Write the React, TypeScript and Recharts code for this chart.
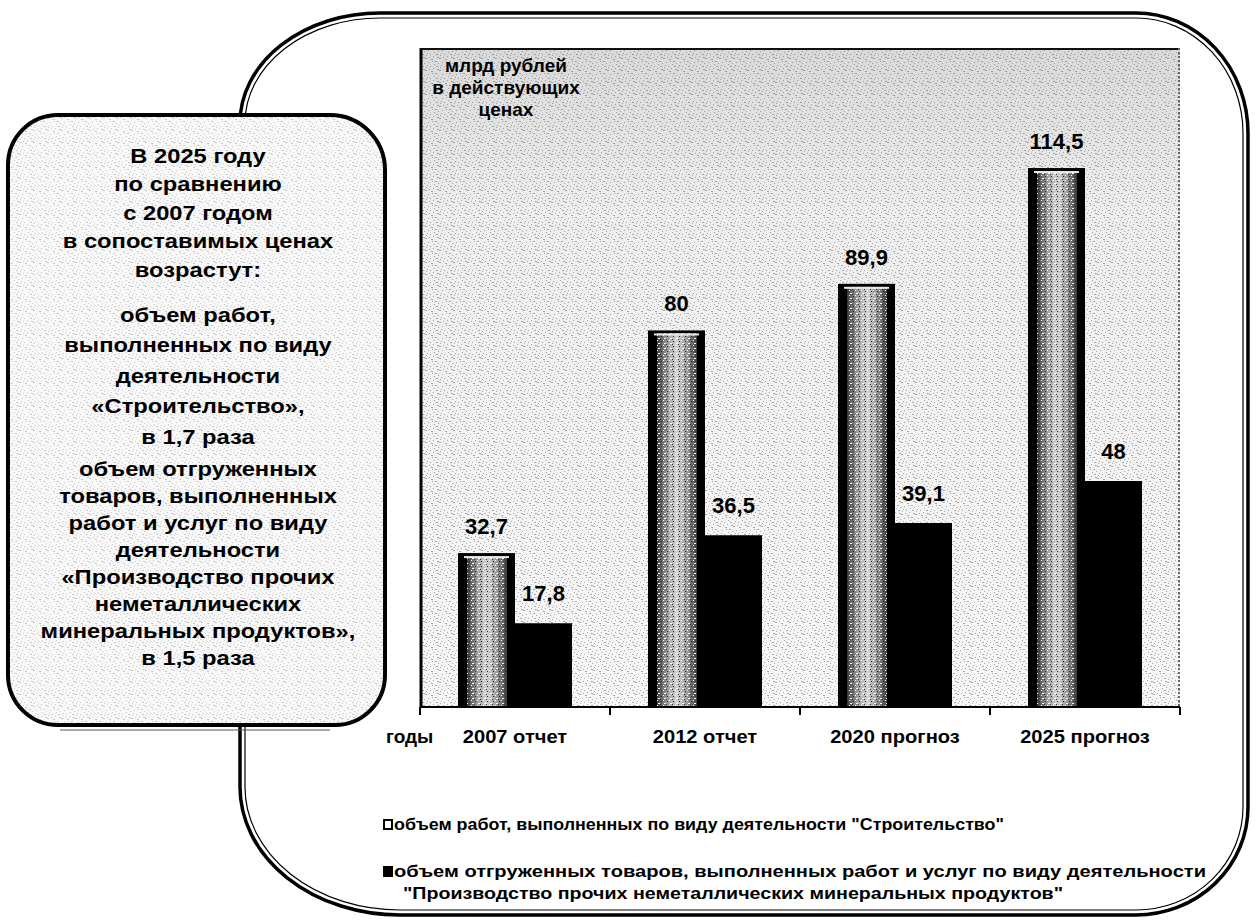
import React from 'react';
import { BarChart, Bar, XAxis, YAxis, LabelList, Legend } from 'recharts';

const categories = ['2007 отчет', '2012 отчет', '2020 прогноз', '2025 прогноз'];
const construction = [32.7, 80, 89.9, 114.5];
const minerals = [17.8, 36.5, 39.1, 48];
const seriesNames = [
  'объем работ, выполненных по виду деятельности "Строительство"',
  'объем отгруженных товаров, выполненных работ и услуг по виду деятельности',
  '"Производство прочих неметаллических минеральных продуктов"',
];
const unitLines = ['млрд рублей', 'в действующих', 'ценах'];
const noteGroups = [
  ['В 2025 году', 'по сравнению', 'с 2007 годом', 'в сопоставимых ценах', 'возрастут:'],
  ['объем работ,', 'выполненных по виду', 'деятельности', '«Строительство»,', 'в 1,7 раза'],
  [
    'объем отгруженных',
    'товаров, выполненных',
    'работ и услуг по виду',
    'деятельности',
    '«Производство прочих',
    'неметаллических',
    'минеральных продуктов»,',
    'в 1,5 раза',
  ],
];

const data = categories.map((cat, i) => ({ cat, build: construction[i], mineral: minerals[i] }));

const FONT = '"Liberation Sans", Arial, sans-serif';
const W = 1258;
const H = 923;

const fmt = (v: number) => String(v).replace('.', ',');

// rounded rect with a radius pair per corner: tl, tr, br, bl
function roundPath(x: number, y: number, w: number, h: number, r: number[][]) {
  const [tl, tr, br, bl] = r;
  return [
    `M${x + tl[0]},${y}`,
    `H${x + w - tr[0]}`,
    `A${tr[0]},${tr[1]} 0 0 1 ${x + w},${y + tr[1]}`,
    `V${y + h - br[1]}`,
    `A${br[0]},${br[1]} 0 0 1 ${x + w - br[0]},${y + h}`,
    `H${x + bl[0]}`,
    `A${bl[0]},${bl[1]} 0 0 1 ${x},${y + h - bl[1]}`,
    `V${y + tl[1]}`,
    `A${tl[0]},${tl[1]} 0 0 1 ${x + tl[0]},${y}`,
    'Z',
  ].join(' ');
}

const SPECKS = [
  [1, 1], [4, 3], [8, 2], [2, 6], [6, 7], [9, 9], [5, 10], [0, 4], [10, 6], [3, 9], [7, 5], [12, 1], [11, 11], [13, 8],
];

function CategoryTick({ x, y, payload, index, visibleTicksCount }: any) {
  const half = payload?.offset || 95;
  const last = index === (visibleTicksCount ?? categories.length) - 1;
  return (
    <g>
      <line x1={x - half} y1={y} x2={x - half} y2={y + 8} stroke="#000" strokeWidth={2} />
      {last && <line x1={x + half} y1={y} x2={x + half} y2={y + 8} stroke="#000" strokeWidth={2} />}
      <text
        x={x}
        y={y + 36}
        textAnchor="middle"
        fontFamily={FONT}
        fontWeight="bold"
        fontSize={19}
        fill="#000"
        transform={`translate(${x},0) scale(1.06,1) translate(${-x},0)`}
      >
        {payload.value}
      </text>
    </g>
  );
}

function TexturedBar({ x, y, width, height }: any) {
  if (!height || height <= 0) return null;
  return (
    <g>
      <rect x={x} y={y} width={width} height={height} fill="#000" />
      <rect x={x + 9} y={y + 3} width={width - 17} height={height - 3} fill="url(#barTex)" />
      <rect x={x + 9} y={y + 3} width={width - 17} height={height - 3} fill="url(#barSpeck)" />
      <rect x={x + 6} y={y + 3} width={width - 12} height={2} fill="#e8e8e8" />
    </g>
  );
}

const valueLabel = (gap: number) => (p: any) => {
  const { x, y, width, value } = p;
  return (
    <text x={x + width / 2} y={y - gap} textAnchor="middle" fontFamily={FONT} fontWeight="bold" fontSize={22} fill="#000">
      {fmt(value)}
    </text>
  );
};

function LegendBox() {
  return (
    <svg width={880} height={100} style={{ display: 'block', overflow: 'visible' }}>
      <rect x={2} y={14} width={8} height={9} fill="#fff" stroke="#000" strokeWidth={2} />
      <text x={12} y={24} fontFamily={FONT} fontWeight="bold" fontSize={17} fill="#000" textLength={610} lengthAdjust="spacingAndGlyphs">
        {seriesNames[0]}
      </text>
      <rect x={1} y={60} width={10} height={11} fill="#000" />
      <text x={12} y={71} fontFamily={FONT} fontWeight="bold" fontSize={17} fill="#000" textLength={812} lengthAdjust="spacingAndGlyphs">
        {seriesNames[1]}
      </text>
      <text x={21} y={93} fontFamily={FONT} fontWeight="bold" fontSize={17} fill="#000" textLength={660} lengthAdjust="spacingAndGlyphs">
        {seriesNames[2]}
      </text>
    </svg>
  );
}

function Backdrop() {
  const starts = [163, 322, 476];
  const steps = [28.5, 30.5, 27];
  const cx = 198;
  return (
    <svg width={W} height={H} style={{ position: 'absolute', left: 0, top: 0 }}>
      <defs>
        <pattern id="speck" width={14} height={12} patternUnits="userSpaceOnUse">
          {SPECKS.map(([a, b], i) => (
            <rect key={i} x={a} y={b} width={i % 3 === 0 ? 2 : 1} height={1} fill="#5a5a5a" />
          ))}
        </pattern>
        <pattern id="barSpeck" width={6} height={5} patternUnits="userSpaceOnUse">
          <rect x={1} y={1} width={1} height={1} fill="#222" />
          <rect x={4} y={3} width={2} height={1} fill="#fff" />
          <rect x={3} y={0} width={1} height={1} fill="#fff" />
          <rect x={0} y={4} width={1} height={1} fill="#333" />
        </pattern>
        <linearGradient id="barTex" x1="0" y1="0" x2="1" y2="0">
          <stop offset="0%" stopColor="#3c3c3c" />
          <stop offset="25%" stopColor="#9a9a9a" />
          <stop offset="50%" stopColor="#d4d4d4" />
          <stop offset="75%" stopColor="#9a9a9a" />
          <stop offset="100%" stopColor="#3c3c3c" />
        </linearGradient>
        <linearGradient id="panelGrad" x1="0" y1="0" x2="0" y2="1">
          <stop offset="0%" stopColor="#d9d9d9" />
          <stop offset="25%" stopColor="#eeeeee" />
          <stop offset="100%" stopColor="#f7f7f7" />
        </linearGradient>
      </defs>

      {/* outer frame, double line */}
      <path
        d={roundPath(240, 13, 1008, 902, [[140, 110], [112, 120], [112, 108], [160, 128]])}
        fill="#fff"
        stroke="#000"
        strokeWidth={3.5}
      />
      <path
        d={roundPath(245, 18, 998, 892, [[135, 105], [107, 115], [107, 103], [155, 123]])}
        fill="none"
        stroke="#000"
        strokeWidth={1.2}
      />

      {/* plot panel */}
      <rect x={420} y={48} width={760} height={659} fill="url(#panelGrad)" />
      <rect x={420} y={48} width={760} height={659} fill="url(#speck)" opacity={0.5} />
      <line x1={421} y1={48} x2={421} y2={707} stroke="#000" strokeWidth={3} />
      <line x1={420} y1={49} x2={1180} y2={49} stroke="#111" strokeWidth={2} />
      <line x1={1179} y1={48} x2={1179} y2={707} stroke="#666" strokeWidth={2} strokeDasharray="2 2" />
      {unitLines.map((t, i) => (
        <text key={t} x={506} y={72 + i * 22} textAnchor="middle" fontFamily={FONT} fontWeight="bold" fontSize={19} fill="#000">
          {t}
        </text>
      ))}

      {/* left note box */}
      <path d={roundPath(8, 115, 377, 610, [[50, 50], [55, 55], [50, 50], [50, 50]])} fill="#f8f8f8" stroke="#000" strokeWidth={4} />
      <path d={roundPath(8, 115, 377, 610, [[50, 50], [55, 55], [50, 50], [50, 50]])} fill="url(#speck)" opacity={0.3} />
      <line x1={60} y1={730} x2={330} y2={730} stroke="#555" strokeWidth={1} />
      <g transform={`translate(${cx},0) scale(1.13,1) translate(${-cx},0)`}>
        {noteGroups.map((g, gi) =>
          g.map((t, li) => (
            <text
              key={gi + '-' + li}
              x={cx}
              y={starts[gi] + li * steps[gi]}
              textAnchor="middle"
              fontFamily={FONT}
              fontWeight="bold"
              fontSize={21}
              fill="#000"
            >
              {t}
            </text>
          ))
        )}
      </g>

      <text x={386} y={743} fontFamily={FONT} fontWeight="bold" fontSize={19} fill="#000">
        годы
      </text>
    </svg>
  );
}

export default function App() {
  return (
    <div style={{ position: 'absolute', left: 0, top: 0, width: W, height: H, background: '#fff' }}>
      <Backdrop />
      <div style={{ position: 'absolute', left: 0, top: 0 }}>
        <BarChart
          width={W}
          height={H}
          data={data}
          margin={{ top: 48, right: 78, bottom: 186, left: 420 }}
          barCategoryGap="20%"
          barGap={0}
        >
          <XAxis
            dataKey="cat"
            height={30}
            interval={0}
            axisLine={{ stroke: '#000', strokeWidth: 2 }}
            tickLine={false}
            tickSize={0}
            tickMargin={0}
            tick={<CategoryTick />}
          />
          <YAxis hide domain={[0, 140]} />
          <Legend
            layout="horizontal"
            verticalAlign="middle"
            align="center"
            content={() => <LegendBox />}
            wrapperStyle={{ position: 'absolute', left: 382, top: 806, width: 880, height: 100 }}
          />
          <Bar dataKey="build" name={seriesNames[0]} fill="#888" shape={<TexturedBar />} isAnimationActive={false}>
            <LabelList dataKey="build" content={valueLabel(19)} />
          </Bar>
          <Bar dataKey="mineral" name={seriesNames[1]} fill="#000" isAnimationActive={false}>
            <LabelList dataKey="mineral" content={valueLabel(22)} />
          </Bar>
        </BarChart>
      </div>
    </div>
  );
}
